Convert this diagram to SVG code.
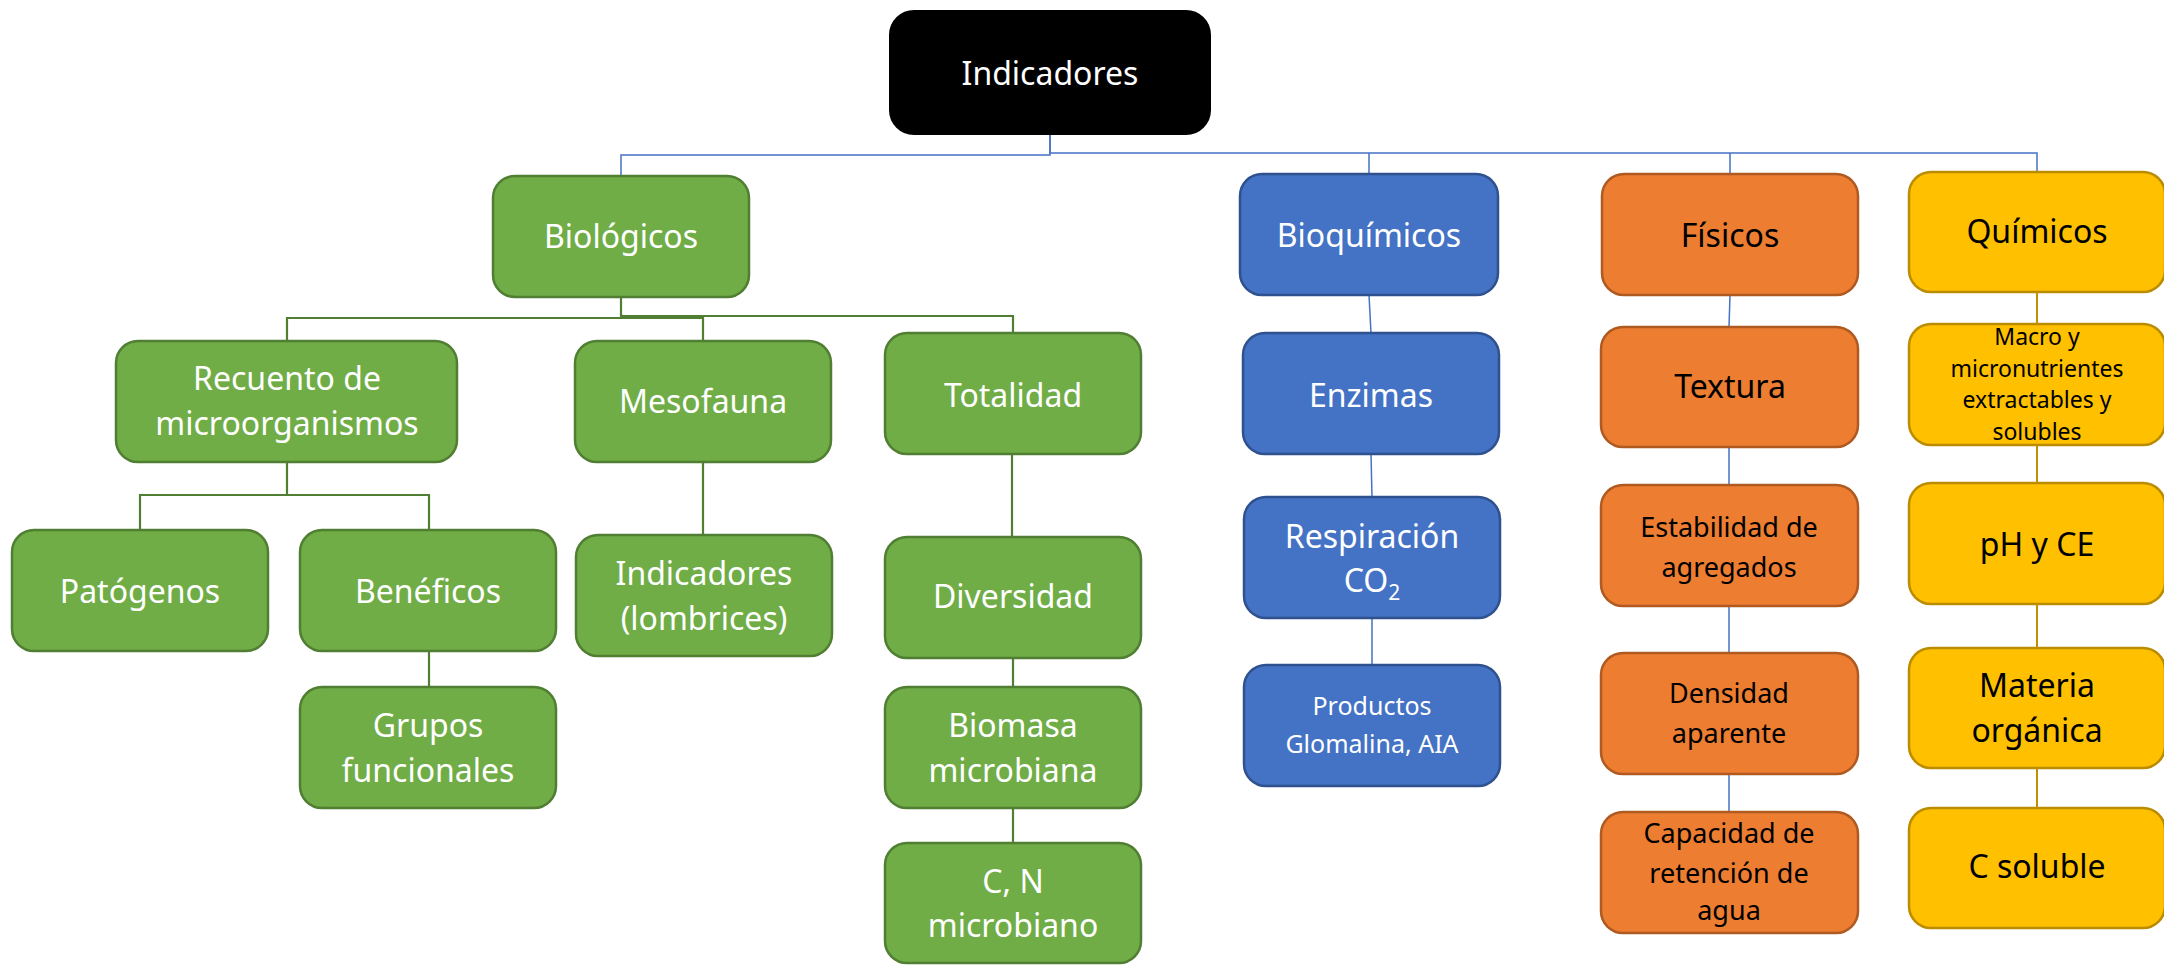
<svg xmlns="http://www.w3.org/2000/svg" width="2164" height="966" viewBox="0 0 2164 966">
<style>
text{font-family:"Noto Sans","Open Sans",sans-serif;text-anchor:middle;font-size:32px}
.w{fill:#fff}.k{fill:#000}
.s27{font-size:27px}.s25{font-size:25px}.s23{font-size:23px}
.root rect{fill:#000;stroke:#000;stroke-width:2}
.g rect{fill:#70AD47;stroke:#507E32;stroke-width:2.5}
.b rect{fill:#4472C4;stroke:#2F528F;stroke-width:2.5}
.o rect{fill:#ED7D31;stroke:#AE5A21;stroke-width:2.5}
.y rect{fill:#FFC000;stroke:#BC8C00;stroke-width:2.5}
.cb{fill:none;stroke:#4472C4;stroke-width:1.5}
.cg{fill:none;stroke:#507E32;stroke-width:2.2}
.cy{fill:none;stroke:#BF9000;stroke-width:2}
</style>
<g id="connectors">
<path class="cb" d="M1050 134V155H621V176"/>
<path class="cb" d="M1050 134V153H2037V172"/>
<path class="cb" d="M1369 153V174M1730 153V174"/>
<path class="cg" d="M621 297V318H287V341M621 318H703V341M621 316H1013V333"/>
<path class="cg" d="M287 462V495H140V530M287 495H429V530"/>
<path class="cg" d="M429 651V687M703 462V535M1012 454V537M1013 658V687M1013 808V843"/>
<path class="cb" d="M1369 295L1371 333M1371 454L1372 497M1372 618V665"/>
<path class="cb" d="M1730 295L1729 327M1729 447V485M1729 606V653M1729 774V812"/>
<path class="cy" d="M2037 292V324M2037 445V483M2037 604V648M2037 768V808"/>
</g>
<g id="n-indicadores" class="root"><rect x="890" y="11" width="320" height="123" rx="24"/><text class="w" x="1050" y="85">Indicadores</text></g>
<g id="n-biologicos" class="g"><rect x="493" y="176" width="256" height="121" rx="22"/><text class="w" x="621" y="248">Biológicos</text></g>
<g id="n-recuento" class="g"><rect x="116" y="341" width="341" height="121" rx="22"/><text class="w" x="287" y="390">Recuento de</text><text class="w" x="287" y="435">microorganismos</text></g>
<g id="n-mesofauna" class="g"><rect x="575" y="341" width="256" height="121" rx="22"/><text class="w" x="703" y="413">Mesofauna</text></g>
<g id="n-totalidad" class="g"><rect x="885" y="333" width="256" height="121" rx="22"/><text class="w" x="1013" y="407">Totalidad</text></g>
<g id="n-patogenos" class="g"><rect x="12" y="530" width="256" height="121" rx="22"/><text class="w" x="140" y="603">Patógenos</text></g>
<g id="n-beneficos" class="g"><rect x="300" y="530" width="256" height="121" rx="22"/><text class="w" x="428" y="603">Benéficos</text></g>
<g id="n-grupos" class="g"><rect x="300" y="687" width="256" height="121" rx="22"/><text class="w" x="428" y="737">Grupos</text><text class="w" x="428" y="782">funcionales</text></g>
<g id="n-lombrices" class="g"><rect x="576" y="535" width="256" height="121" rx="22"/><text class="w" x="704" y="585">Indicadores</text><text class="w" x="704" y="630">(lombrices)</text></g>
<g id="n-diversidad" class="g"><rect x="885" y="537" width="256" height="121" rx="22"/><text class="w" x="1013" y="608">Diversidad</text></g>
<g id="n-biomasa" class="g"><rect x="885" y="687" width="256" height="121" rx="22"/><text class="w" x="1013" y="737">Biomasa</text><text class="w" x="1013" y="782">microbiana</text></g>
<g id="n-cn" class="g"><rect x="885" y="843" width="256" height="120" rx="22"/><text class="w" x="1013" y="893">C, N</text><text class="w" x="1013" y="937">microbiano</text></g>
<g id="n-bioquimicos" class="b"><rect x="1240" y="174" width="258" height="121" rx="22"/><text class="w" x="1369" y="247">Bioquímicos</text></g>
<g id="n-enzimas" class="b"><rect x="1243" y="333" width="256" height="121" rx="22"/><text class="w" x="1371" y="407">Enzimas</text></g>
<g id="n-respiracion" class="b"><rect x="1244" y="497" width="256" height="121" rx="22"/><text class="w" x="1372" y="548">Respiración</text><text class="w" x="1372" y="592">CO<tspan font-size="21" dy="8">2</tspan></text></g>
<g id="n-productos" class="b"><rect x="1244" y="665" width="256" height="121" rx="22"/><text class="w s25" x="1372" y="715">Productos</text><text class="w s25" x="1372" y="753">Glomalina, AIA</text></g>
<g id="n-fisicos" class="o"><rect x="1602" y="174" width="256" height="121" rx="22"/><text class="k" x="1730" y="247">Físicos</text></g>
<g id="n-textura" class="o"><rect x="1601" y="327" width="257" height="120" rx="22"/><text class="k" x="1730" y="398">Textura</text></g>
<g id="n-estabilidad" class="o"><rect x="1601" y="485" width="257" height="121" rx="22"/><text class="k s27" x="1729" y="537">Estabilidad de</text><text class="k s27" x="1729" y="577">agregados</text></g>
<g id="n-densidad" class="o"><rect x="1601" y="653" width="257" height="121" rx="22"/><text class="k s27" x="1729" y="703">Densidad</text><text class="k s27" x="1729" y="743">aparente</text></g>
<g id="n-capacidad" class="o"><rect x="1601" y="812" width="257" height="121" rx="22"/><text class="k s27" x="1729" y="843">Capacidad de</text><text class="k s27" x="1729" y="883">retención de</text><text class="k s27" x="1729" y="920">agua</text></g>
<g id="n-quimicos" class="y"><rect x="1909" y="172" width="256" height="120" rx="22"/><text class="k" x="2037" y="243">Químicos</text></g>
<g id="n-macro" class="y"><rect x="1909" y="324" width="256" height="121" rx="22"/><text class="k s23" x="2037" y="345">Macro y</text><text class="k s23" x="2037" y="377">micronutrientes</text><text class="k s23" x="2037" y="408">extractables y</text><text class="k s23" x="2037" y="440">solubles</text></g>
<g id="n-ph" class="y"><rect x="1909" y="483" width="256" height="121" rx="22"/><text class="k" x="2037" y="556">pH y CE</text></g>
<g id="n-materia" class="y"><rect x="1909" y="648" width="256" height="120" rx="22"/><text class="k" x="2037" y="697">Materia</text><text class="k" x="2037" y="742">orgánica</text></g>
<g id="n-csoluble" class="y"><rect x="1909" y="808" width="256" height="120" rx="22"/><text class="k" x="2037" y="878">C soluble</text></g>
</svg>
